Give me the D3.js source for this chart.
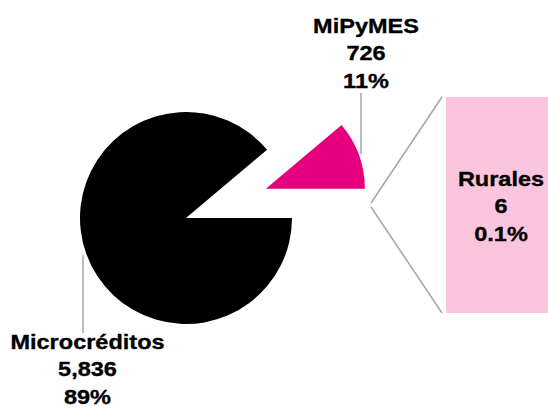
<!DOCTYPE html>
<html>
<head>
<meta charset="utf-8">
<script src="https://cdn.jsdelivr.net/npm/d3@7"></script>
<style>
  body { margin: 0; background: #fff; }
  text { font-family: "Liberation Sans", Arial, sans-serif; font-weight: bold; fill: #000; stroke: #000; stroke-width: 0.35; }
</style>
</head>
<body>
<script>
// data
const categories = ["Microcréditos", "MiPyMES", "Rurales"];
const values = [5836, 726, 6];
const colors = ["#000000", "#e6007e", "#fcc5de"];

const width = 548, height = 408;
const total = d3.sum(values);
const fmtNum = d3.format(",");
const fmtPct = (v) => {
  const p = v / total * 100;
  return (p < 1 ? p.toFixed(1) : Math.round(p)) + "%";
};

const svg = d3.select("body").append("svg")
  .attr("width", width)
  .attr("height", height);

// main pie: first item alone, the rest grouped into the exploded slice
const pieData = [values[0], d3.sum(values.slice(1))];
const pie = d3.pie().sort(null)
  .startAngle(Math.PI / 2)
  .endAngle(Math.PI / 2 + 2 * Math.PI);
const arcs = pie(pieData);

const cx = 186, cy = 218, r = 106;
const explode = 85;

const g = svg.append("g").attr("transform", `translate(${cx},${cy})`);

g.append("path")
  .attr("d", d3.arc().innerRadius(0).outerRadius(r)(arcs[0]))
  .attr("fill", colors[0]);

const mid = (arcs[1].startAngle + arcs[1].endAngle) / 2;
const ox = Math.sin(mid) * explode, oy = -Math.cos(mid) * explode;
g.append("path")
  .attr("transform", `translate(${ox},${oy})`)
  .attr("d", d3.arc().innerRadius(0).outerRadius(99)(arcs[1]))
  .attr("fill", colors[1]);

// secondary bar
const barX = 446, barW = 118;
const y = d3.scaleLinear().domain([0, values[2]]).range([313, 97]);
svg.append("rect")
  .attr("x", barX)
  .attr("y", y(values[2]))
  .attr("width", barW)
  .attr("height", y(0) - y(values[2]))
  .attr("fill", colors[2]);

// connector lines
const lines = svg.append("g").attr("stroke", "#a6a6a6").attr("stroke-width", 1.5).attr("fill", "none");
lines.append("line").attr("x1", 371).attr("y1", 203).attr("x2", barX - 4).attr("y2", y(values[2]));
lines.append("line").attr("x1", 371).attr("y1", 207).attr("x2", barX - 4).attr("y2", y(0));

// leader lines
lines.append("line").attr("x1", 361).attr("y1", 93).attr("x2", 361).attr("y2", 154);
lines.append("line").attr("x1", 83).attr("y1", 255).attr("x2", 83).attr("y2", 333);

// labels (text in the original is a bit wider than tall)
const labels = [
  { x: 87.5, y: 349 },
  { x: 366, y: 33 },
  { x: 501, y: 186 }
];
categories.forEach((c, i) => {
  const t = svg.append("g")
    .attr("transform", `translate(${labels[i].x},${labels[i].y}) scale(1.12,1)`)
    .append("text")
    .attr("text-anchor", "middle")
    .attr("font-size", 21);
  [c, fmtNum(values[i]), fmtPct(values[i])].forEach((s, k) => {
    t.append("tspan").attr("x", 0).attr("dy", k ? 27.3 : 0).text(s);
  });
});
</script>
</body>
</html>
